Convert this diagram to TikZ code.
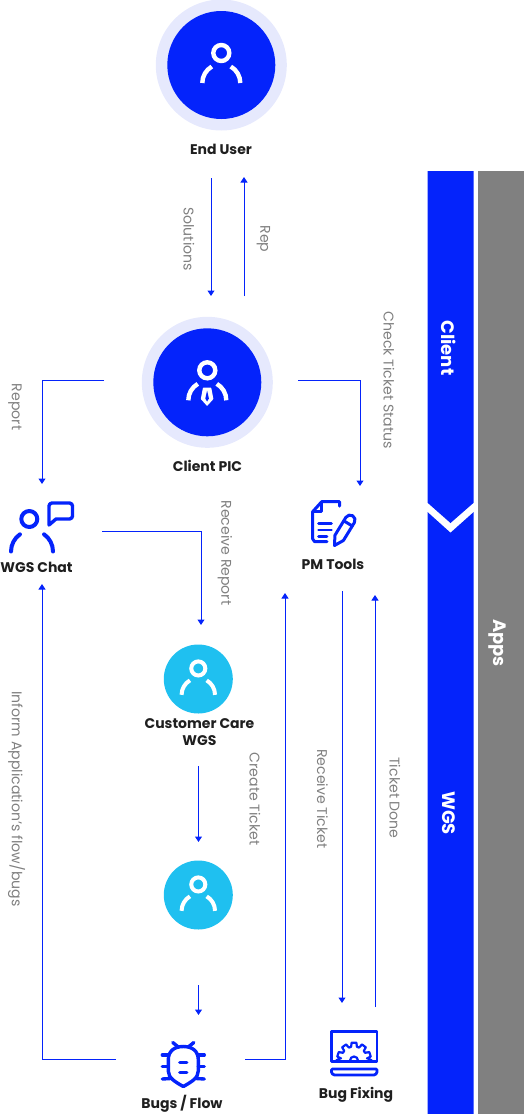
\documentclass[tikz,border=0pt]{standalone}
\usepackage{fontspec}
\setmainfont{Poppins}
\usetikzlibrary{arrows.meta}
\definecolor{wgsblue}{HTML}{0423FB}
\definecolor{wgscyan}{HTML}{1FC0F0}
\definecolor{halocolor}{HTML}{E6E9FD}
\definecolor{stripgray}{HTML}{808080}
\definecolor{titlecolor}{HTML}{1F1F1F}
\definecolor{notecolor}{HTML}{808080}
\tikzset{
  halo disc/.style={circle,fill=halocolor,minimum size=131pt,inner sep=0pt},
  blue disc/.style={circle,fill=wgsblue,minimum size=108pt,inner sep=0pt},
  cyan disc/.style={circle,fill=wgscyan,minimum size=69pt,inner sep=0pt},
  actor title/.style={text=titlecolor,font=\fontsize{14}{17}\selectfont\bfseries,align=center,inner sep=0pt},
  flow note/.style={text=notecolor,font=\fontsize{14.1}{15}\selectfont,rotate=-90,inner sep=0pt},
  strip title/.style={text=white,font=\fontsize{18}{20}\selectfont\bfseries,rotate=-90,inner sep=0pt},
  flow arrow/.style={wgsblue,line width=1pt,-{Triangle[length=5.5pt,width=7pt]}},
  icon line/.style={wgsblue,line width=3.4pt,line cap=round,line join=round},
  person/.pic={
    \draw (0,-12) circle (8);
    \draw (-19,18) arc[start angle=180,end angle=240,radius=19];
    \draw (19,18) arc[start angle=0,end angle=-60,radius=19];
  }
}
\begin{document}
\begin{tikzpicture}[x=1pt,y=-1pt]
  \useasboundingbox (0,0) rectangle (524,1114);
  % side strips
  \fill[stripgray] (477.7,171) rectangle (523.5,1114);
  \fill[wgsblue] (427.5,171)--(473.7,171)--(473.7,502.7)--(450.5,523)--(427.5,502.7)--cycle;
  \fill[wgsblue] (427.5,512)--(450.5,532.7)--(473.7,512)--(473.7,1114)--(427.5,1114)--cycle;
  \node[strip title] (clientstrip) at (449,348) {Client};
  \node[strip title] (wgsstrip) at (449,813) {WGS};
  \node[strip title] (appsstrip) at (497,643) {Apps};

  % actors on discs
  \node[halo disc] (enduserhalo) at (221.3,65) {};
  \node[blue disc] (enduser) at (221.3,65) {};
  \pic[white,line width=4.4pt] at (221.3,65) {person};
  \node[actor title] (endusertitle) at (221,149) {End User};

  \node[halo disc] (clientpichalo) at (207.3,382.3) {};
  \node[blue disc] (clientpic) at (207.3,382.3) {};
  \pic[white,line width=4.4pt] at (207.3,382.3) {person};
  \fill[white,rounded corners=.6pt] (207.1,387.5)--(203,387.5)--(200.8,399)--(207.1,406)--(213.4,399)--(211.2,387.5)--cycle;
  \fill[wgsblue] (207.1,390.5)--(205.3,398.5)--(207.1,401.5)--(208.9,398.5)--cycle;
  \node[actor title] (clientpictitle) at (207.5,466) {Client PIC};

  \node[cyan disc] (customercare) at (198.3,679) {};
  \pic[white,line width=4pt,scale=.88] at (198.3,679) {person};
  \node[actor title] (customercaretitle) at (199.5,732) {Customer Care\\WGS};

  \node[cyan disc] (reviewer) at (198.3,895) {};
  \pic[white,line width=4pt,scale=.88] at (198.3,895) {person};

  % wgs chat icon
  \draw[icon line,line width=4pt] (29.3,519) circle (8);
  \draw[icon line,line width=4pt] (11,551.5) arc[start angle=180,end angle=235,radius=21];
  \draw[icon line,line width=4pt] (53,551.5) arc[start angle=0,end angle=-55,radius=21];
  \draw[icon line] (49,525)--(49,506) arc[start angle=180,end angle=270,radius=3]--(69.5,503)
    arc[start angle=-90,end angle=0,radius=3]--(72.5,516) arc[start angle=0,end angle=90,radius=3]--(56,519)--cycle;
  \node[actor title] (wgschat) at (36.5,567) {WGS Chat};

  % pm tools icon
  \draw[icon line,line width=3pt] (339.5,506)--(339.5,501.7)--(321.7,501.7)--(312.7,511.7)--(312.7,539)--(314.7,541.7)--(327,541.7);
  \draw[icon line,line width=2.6pt] (321.7,501.7)--(321.7,511.7)--(312.7,511.7);
  \foreach \y/\xend in {523.5/331.5,530/331.5,536.7/327}{\draw[icon line,line width=2.6pt] (318.5,\y)--(\xend,\y);}
  \begin{scope}[shift={(334.5,545.5)},x={(.52pt,.85pt)},y={(.85pt,-.52pt)}]
    \draw[icon line,line width=3pt] (0,0)--(9,-5)--(30,-5) arc[start angle=-90,end angle=90,radius=5]--(9,5)--cycle;
    \draw[icon line,line width=3pt] (26,-5)--(26,5);
  \end{scope}
  \node[actor title] (pmtools) at (333,564) {PM Tools};

  % bug icon
  \begin{scope}[shift={(183.3,1030)}]
    \foreach \s in {-1,1}{
      \draw[icon line] (0,16.5) .. controls (\s*9,16.5) and (\s*15,21) .. (\s*15,30)--(\s*15,41)
        .. controls (\s*15,48) and (\s*8,52) .. (0,56.5);
      \draw[icon line] (\s*5,17)--(\s*10.5,12.5);
      \draw[icon line] (\s*15,25)--(\s*21,25);
      \draw[icon line] (\s*15,36.5)--(\s*21,36.5);
      \draw[icon line] (\s*13,48.5)--(\s*21,49);
      \draw[icon line] (\s*3.5,32.5)--(0,32.5);
      \draw[icon line] (\s*3.5,42.5)--(0,42.5);
    }
  \end{scope}
  \node[actor title] (bugsflow) at (182,1104) {Bugs / Flow};

  % bug fixing icon
  \draw[wgsblue,line width=2.8pt,line join=round] (331.5,1031.5) rectangle (377,1061.5);
  \draw[wgsblue,line width=2.8pt,line join=round,rounded corners=1pt] (331.5,1069)--(377,1069)--(377,1071) arc[start angle=0,end angle=90,radius=4]--(335.5,1075) arc[start angle=90,end angle=180,radius=4]--cycle;
  \begin{scope}[shift={(354,1059.5)}]
    \draw[wgsblue,line width=2.2pt,line join=round] (-18,1)--(-14,-1)
      \foreach \a in {162,126,90,54,18}{ --(-\a-13:13)--(-\a-8:17)--(-\a+8:17)--(-\a+13:13) }
      --(14,-1)--(18,1);
    \draw[wgsblue,line width=2.2pt] (-4,1) arc[start angle=180,end angle=360,radius=4];
  \end{scope}
  \node[actor title] (bugfixing) at (356,1095) {Bug Fixing};

  % free ends of the connectors
  \coordinate (solutionstart) at (211,178);
  \coordinate (solutionend) at (211,296);
  \coordinate (repstart) at (244,296);
  \coordinate (repend) at (244,177);
  \coordinate (reportstart) at (104,380.5);
  \coordinate (reportend) at (42,484);
  \coordinate (checkstart) at (298,380.5);
  \coordinate (checkend) at (360,486);
  \coordinate (receivestart) at (102,531);
  \coordinate (receiveend) at (201,625);
  \coordinate (carestart) at (198.5,766);
  \coordinate (careend) at (198.5,842);
  \coordinate (reviewstart) at (198.5,985);
  \coordinate (reviewend) at (198.5,1015);
  \coordinate (informstart) at (116,1059);
  \coordinate (informend) at (42,584);
  \coordinate (createstart) at (245,1059);
  \coordinate (createend) at (285,593);
  \coordinate (ticketstart) at (342,591);
  \coordinate (ticketend) at (342,1003);
  \coordinate (donestart) at (375,1007);
  \coordinate (doneend) at (375,595);

  \draw[flow arrow] (solutionstart)--(solutionend);
  \draw[flow arrow] (repstart)--(repend);
  \draw[flow arrow] (reportstart)-|(reportend);
  \draw[flow arrow] (checkstart)-|(checkend);
  \draw[flow arrow] (receivestart)-|(receiveend);
  \draw[flow arrow] (carestart)--(careend);
  \draw[flow arrow] (reviewstart)--(reviewend);
  \draw[flow arrow] (informstart)-|(informend);
  \draw[flow arrow] (createstart)-|(createend);
  \draw[flow arrow] (ticketstart)--(ticketend);
  \draw[flow arrow] (donestart)--(doneend);

  \node[flow note] (solutionnote) at (189,239) {Solutions};
  \node[flow note] (repnote) at (263.5,239) {Rep};
  \node[flow note] (reportnote) at (15,407) {Report};
  \node[flow note] (checknote) at (389,380) {Check Ticket Status};
  \node[flow note] (receivenote) at (225,553) {Receive Report};
  \node[flow note] (createnote) at (255,799) {Create Ticket};
  \node[flow note] (ticketnote) at (322.5,799) {Receive Ticket};
  \node[flow note] (donenote) at (395,798) {Ticket Done};
  \node[flow note] (informnote) at (16.5,799) {Inform Application's flow/bugs};
\end{tikzpicture}
\end{document}
